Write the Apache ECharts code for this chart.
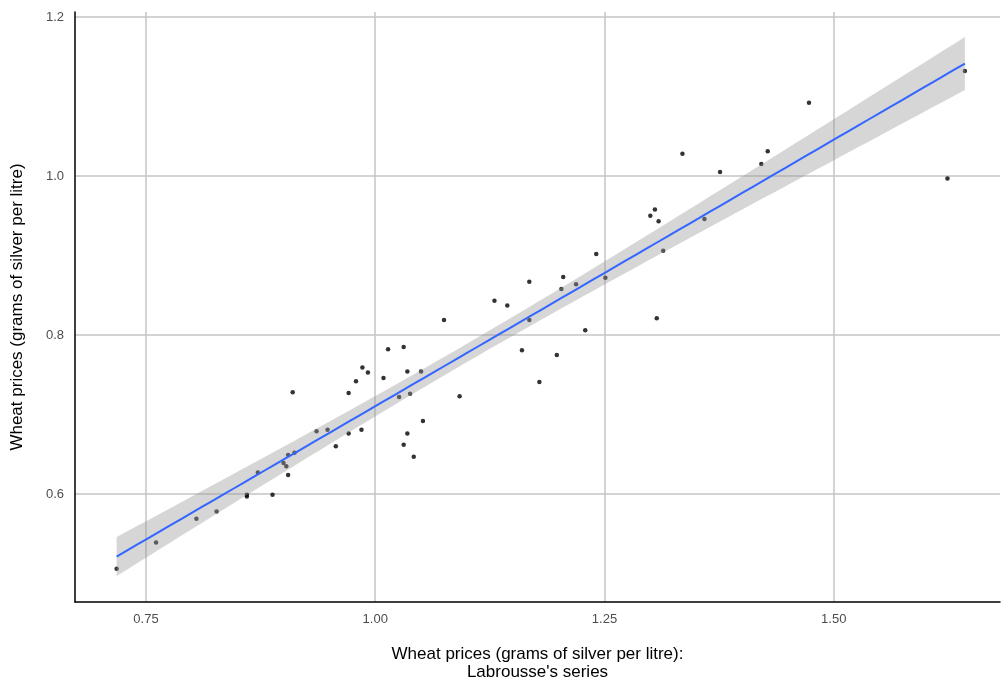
<!DOCTYPE html>
<html>
<head>
<meta charset="utf-8">
<script src="https://cdn.jsdelivr.net/npm/echarts@6/dist/echarts.min.js"></script>
<style>
html,body{margin:0;padding:0;background:#fff;}
#chart{width:1001px;height:684px;}
</style>
</head>
<body>
<div id="chart"></div>
<script>
// Labrousse's series (x) vs wheat prices (y), grams of silver per litre
const labrousse = [0.718,0.761,0.805,0.827,0.860,0.860,0.888,0.872,0.905,0.900,0.903,0.905,0.912,0.910,0.936,0.948,0.957,0.971,0.971,0.979,0.986,0.992,0.985,1.014,1.031,1.009,1.035,1.050,1.026,1.038,1.031,1.035,1.042,1.052,1.075,1.092,1.130,1.144,1.168,1.168,1.160,1.198,1.179,1.203,1.205,1.219,1.241,1.251,1.229,1.300,1.305,1.309,1.314,1.307,1.335,1.359,1.376,1.421,1.428,1.473,1.624,1.643];
const wheat = [0.506,0.539,0.569,0.578,0.599,0.597,0.599,0.627,0.624,0.639,0.635,0.649,0.652,0.728,0.679,0.681,0.660,0.727,0.676,0.742,0.759,0.753,0.681,0.782,0.785,0.746,0.754,0.754,0.722,0.726,0.662,0.676,0.647,0.692,0.819,0.723,0.843,0.837,0.867,0.819,0.781,0.775,0.741,0.858,0.873,0.864,0.902,0.872,0.806,0.950,0.958,0.943,0.906,0.821,1.028,0.946,1.005,1.015,1.031,1.092,0.997,1.132];
const xTicks = [0.75, 1.00, 1.25, 1.50];
const yTicks = [0.6, 0.8, 1.0, 1.2];

// linear model fit (as geom_smooth(method = "lm")) with 95% confidence band
const n = labrousse.length;
const mx = labrousse.reduce((a,b)=>a+b,0)/n;
const my = wheat.reduce((a,b)=>a+b,0)/n;
let sxx=0, sxy=0;
for (let i=0;i<n;i++){ sxx += (labrousse[i]-mx)**2; sxy += (labrousse[i]-mx)*(wheat[i]-my); }
const slope = sxy/sxx, icpt = my - slope*mx;
let sse=0;
for (let i=0;i<n;i++){ const r = wheat[i]-(icpt+slope*labrousse[i]); sse += r*r; }
const s = Math.sqrt(sse/(n-2));
const tCrit = 2.0;
const xmin = Math.min(...labrousse), xmax = Math.max(...labrousse);
const band = [];
for (let k=0;k<=80;k++){
  const x = xmin + (xmax-xmin)*k/80;
  const f = icpt + slope*x;
  const se = s*Math.sqrt(1/n + (x-mx)**2/sxx);
  band.push([x, f - tCrit*se, f + tCrit*se, f]);
}

const chart = echarts.init(document.getElementById('chart'));
const font = 'Liberation Sans, Arial, sans-serif';
chart.setOption({
  animation:false,
  backgroundColor:'#ffffff',
  grid:{left:75,right:1,top:12,bottom:82,containLabel:false,outerBoundsMode:'none'},
  xAxis:{
    type:'value', min:0.6726, max:1.6813,
    name:"Wheat prices (grams of silver per litre):\nLabrousse's series",
    nameLocation:'middle', nameGap:43,
    nameTextStyle:{color:'#000',fontSize:17,fontFamily:font,lineHeight:18},
    axisLine:{show:true,onZero:false,lineStyle:{color:'#000',width:1.5}},
    axisTick:{show:false,customValues:xTicks},
    axisLabel:{customValues:xTicks,color:'#4d4d4d',fontSize:13,fontFamily:font,margin:11,
      formatter:v=>v.toFixed(2)},
    splitLine:{show:true,lineStyle:{color:'#c4c4c4',width:1.5}}
  },
  yAxis:{
    type:'value', min:0.4642, max:1.2063,
    name:'Wheat prices (grams of silver per litre)',
    nameLocation:'middle', nameGap:49,
    nameTextStyle:{color:'#000',fontSize:17,fontFamily:font},
    axisLine:{show:true,onZero:false,lineStyle:{color:'#000',width:1.5}},
    axisTick:{show:false,customValues:yTicks},
    axisLabel:{customValues:yTicks,color:'#4d4d4d',fontSize:13,fontFamily:font,margin:11,
      formatter:v=>v.toFixed(1)},
    splitLine:{show:true,lineStyle:{color:'#c4c4c4',width:1.5}}
  },
  series:[
    {
      type:'scatter', z:2, symbolSize:4.5,
      itemStyle:{color:'#000'},
      data: labrousse.map((x,i)=>[x, wheat[i]])
    },
    {
      type:'custom', z:3, silent:true,
      data:[band[0]],
      renderItem:(params, api)=>{
        const pts = [];
        band.forEach(b=>pts.push(api.coord([b[0], b[2]])));
        for (let k=band.length-1;k>=0;k--) pts.push(api.coord([band[k][0], band[k][1]]));
        return {type:'polygon', shape:{points:pts}, style:{fill:'rgba(153,153,153,0.4)'}};
      }
    },
    {
      type:'line', z:4, showSymbol:false, silent:true,
      lineStyle:{color:'#3366FF',width:2},
      data: band.map(b=>[b[0], b[3]])
    }
  ]
});
</script>
</body>
</html>
